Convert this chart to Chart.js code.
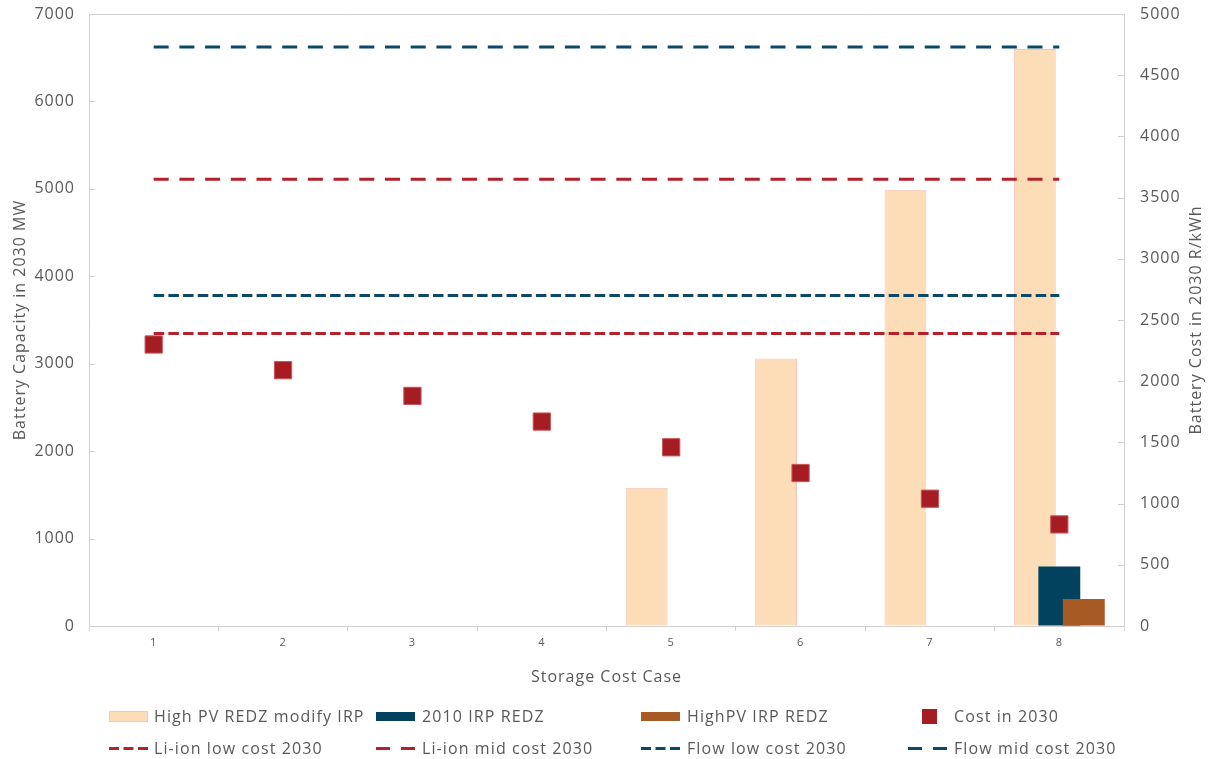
<!DOCTYPE html>
<html>
<head>
<meta charset="utf-8">
<script src="https://cdn.jsdelivr.net/npm/chart.js@4.4.1/dist/chart.umd.min.js"></script>
<style>
    html, body { margin: 0; padding: 0; background: #fff; }
    #wrap { position: relative; width: 1212px; height: 759px; overflow: hidden; }
    #chart { position: absolute; left: 0; top: 0; }
    .leg { position: absolute; display: flex; align-items: center; font-family: 'Open Sans', sans-serif; font-size: 16px; letter-spacing: 1.1px; color: #595959; white-space: nowrap; height: 24px; }
    .leg svg { display: block; }
</style>
</head>
<body>
<div id="wrap">
    <canvas id="chart" width="1212" height="759"></canvas>
    <div id="legend"></div>
</div>
<script>
// Données
const categories = ['1', '2', '3', '4', '5', '6', '7', '8'];
const highPvModifyIrp = [null, null, null, null, 1580, 3060, 4990, 6600];
const irp2010Redz = [null, null, null, null, null, null, null, 680];
const highPvIrpRedz = [null, null, null, null, null, null, null, 310];
const cost2030 = [2300, 2090, 1880, 1670, 1460, 1250, 1040, 830];
const liIonLow = [2390, 2390, 2390, 2390, 2390, 2390, 2390, 2390];
const liIonMid = [3650, 3650, 3650, 3650, 3650, 3650, 3650, 3650];
const flowLow = [2700, 2700, 2700, 2700, 2700, 2700, 2700, 2700];
const flowMid = [4730, 4730, 4730, 4730, 4730, 4730, 4730, 4730];
const leftTicks = [0, 1000, 2000, 3000, 4000, 5000, 6000, 7000];
const rightTicks = [0, 500, 1000, 1500, 2000, 2500, 3000, 3500, 4000, 4500, 5000];

const TXT = '#595959';
const AXE = '#d0d0d0';
const RED = '#b3222a';
const BLEU = '#0c4868';

document.addEventListener('DOMContentLoaded', function() {
    creerGraphique();
});

function creerGraphique() {
    const ctx = document.getElementById('chart').getContext('2d');

    // dessine le cadre, les graduations internes et les séries dans l'ordre d'Excel
    const cadreEtOrdre = {
        id: 'cadreEtOrdre',
        beforeInit(chart) {
            chart.ctx.letterSpacing = '1px';
        },
        beforeDraw(chart) {
            chart.ctx.letterSpacing = '1px';
        },
        beforeDatasetsDraw(chart) {
            const c = chart.ctx;
            const a = chart.chartArea;
            c.save();
            c.strokeStyle = AXE;
            c.lineWidth = 1;
            c.beginPath();
            c.moveTo(a.left, a.top + 0.5);
            c.lineTo(a.right, a.top + 0.5);
            [['y', 1], ['y2', -1]].forEach(function(p) {
                const s = chart.scales[p[0]];
                const x0 = p[1] > 0 ? a.left : a.right;
                s.ticks.forEach(function(t) {
                    const y = Math.round(s.getPixelForValue(t.value)) + 0.5;
                    c.moveTo(x0, y);
                    c.lineTo(x0 + p[1] * 6, y);
                });
            });
            c.stroke();
            c.restore();

            chart.data.datasets.forEach(function(ds, i) {
                chart.getDatasetMeta(i).controller.draw();
            });
            return false;
        },
        afterDraw(chart) {
            const c = chart.ctx;
            const a = chart.chartArea;
            c.save();
            c.translate(1196, (a.top + a.bottom) / 2);
            c.rotate(-Math.PI / 2);
            c.fillStyle = TXT;
            c.font = "16px 'Open Sans', sans-serif";
            c.textAlign = 'center';
            c.textBaseline = 'middle';
            c.fillText('Battery Cost in 2030 R/kWh', 0, 0);
            c.restore();
        }
    };

    const barre = { categoryPercentage: 0.568, barPercentage: 1.71, yAxisID: 'y' };
    const ligne = { type: 'line', yAxisID: 'y2', pointRadius: 0, borderWidth: 3, fill: false, tension: 0 };
    const sansVirgule = function(v) { return String(v); };
    const largeur = function(w) {
        return function(s) {
            s.width = w;
            s.paddingTop = 0;
            s.paddingBottom = 0;
        };
    };

    new Chart(ctx, {
        type: 'bar',
        data: {
            labels: categories,
            datasets: [
                Object.assign({ label: 'High PV REDZ modify IRP', data: highPvModifyIrp,
                    backgroundColor: '#fddcb8', borderColor: '#f7c4b9', borderWidth: 1, borderSkipped: 'bottom' }, barre),
                Object.assign({ label: '2010 IRP REDZ', data: irp2010Redz,
                    backgroundColor: '#03425f', borderWidth: 0 }, barre),
                Object.assign({ label: 'HighPV IRP REDZ', data: highPvIrpRedz,
                    backgroundColor: '#a85a24', borderWidth: 0 }, barre),
                Object.assign({ label: 'Li-ion low cost 2030', data: liIonLow,
                    borderColor: RED, borderDash: [10.5, 4.2] }, ligne),
                Object.assign({ label: 'Li-ion mid cost 2030', data: liIonMid,
                    borderColor: RED, borderDash: [15, 10.7] }, ligne),
                Object.assign({ label: 'Flow low cost 2030', data: flowLow,
                    borderColor: BLEU, borderDash: [10.5, 4.2] }, ligne),
                Object.assign({ label: 'Flow mid cost 2030', data: flowMid,
                    borderColor: BLEU, borderDash: [15, 10.7] }, ligne),
                {
                    type: 'line', label: 'Cost in 2030', data: cost2030, yAxisID: 'y2',
                    showLine: false, pointStyle: 'rect', pointRadius: 12.2,
                    pointBackgroundColor: '#a51c22', pointBorderColor: '#c9565a', pointBorderWidth: 1
                }
            ]
        },
        options: {
            responsive: false,
            animation: false,
            layout: { padding: { left: 0, right: 0, top: 14, bottom: 67 } },
            plugins: {
                legend: { display: false },
                tooltip: { enabled: false }
            },
            scales: {
                x: {
                    grid: { offset: true, drawOnChartArea: false, tickLength: 5, color: AXE },
                    border: { color: AXE },
                    ticks: { color: TXT, font: { family: 'Open Sans', size: 11 }, padding: 5 },
                    title: { display: true, text: 'Storage Cost Case', color: TXT,
                        font: { family: 'Open Sans', size: 16 }, padding: { top: 4, bottom: 5 } },
                    afterFit: function(s) { s.height = 66; s.paddingLeft = 0; s.paddingRight = 0; }
                },
                y: {
                    position: 'left', min: 0, max: 7000,
                    afterBuildTicks: function(s) { s.ticks = leftTicks.map(function(v) { return { value: v }; }); },
                    grid: { drawOnChartArea: false, drawTicks: false },
                    border: { color: AXE },
                    ticks: { color: TXT, font: { family: 'Open Sans', size: 16 }, padding: 14, callback: sansVirgule },
                    title: { display: true, text: 'Battery Capacity in 2030 MW', color: TXT,
                        font: { family: 'Open Sans', size: 16 }, padding: { top: 11, bottom: 0 } },
                    afterFit: largeur(89)
                },
                y2: {
                    position: 'right', min: 0, max: 5000,
                    afterBuildTicks: function(s) { s.ticks = rightTicks.map(function(v) { return { value: v }; }); },
                    grid: { drawOnChartArea: false, drawTicks: false },
                    border: { color: AXE },
                    ticks: { color: TXT, font: { family: 'Open Sans', size: 16 }, padding: 16, callback: sansVirgule },
                    afterFit: largeur(88)
                }
            }
        },
        plugins: [cadreEtOrdre]
    });

    creerLegende();
}

function creerLegende() {
    const cols = [109, 376, 641, 908];
    const rows = [716, 748];
    const items = [
        { label: 'High PV REDZ modify IRP', swatch: '<rect x="0.5" y="1.5" width="38" height="10" fill="#fddcb8" stroke="#f7c4b9"/>' },
        { label: '2010 IRP REDZ', swatch: '<rect x="0" y="2" width="39" height="9" fill="#03425f"/>' },
        { label: 'HighPV IRP REDZ', swatch: '<rect x="0" y="2" width="39" height="9" fill="#a85a24"/>' },
        { label: 'Cost in 2030', swatch: '<rect x="14" y="-1" width="15" height="15" fill="#a51c22"/>' },
        { label: 'Li-ion low cost 2030', swatch: '<line x1="0" y1="6.5" x2="39" y2="6.5" stroke="' + RED + '" stroke-width="3" stroke-dasharray="10 4.5"/>' },
        { label: 'Li-ion mid cost 2030', swatch: '<line x1="0" y1="6.5" x2="39" y2="6.5" stroke="' + RED + '" stroke-width="3" stroke-dasharray="14 11"/>' },
        { label: 'Flow low cost 2030', swatch: '<line x1="0" y1="6.5" x2="39" y2="6.5" stroke="' + BLEU + '" stroke-width="3" stroke-dasharray="10 4.5"/>' },
        { label: 'Flow mid cost 2030', swatch: '<line x1="0" y1="6.5" x2="39" y2="6.5" stroke="' + BLEU + '" stroke-width="3" stroke-dasharray="14 11"/>' }
    ];
    const leg = document.getElementById('legend');
    items.forEach(function(it, i) {
        const d = document.createElement('div');
        d.className = 'leg';
        const col = i % 4;
        d.style.left = cols[col] + 'px';
        d.style.top = (rows[Math.floor(i / 4)] - 12) + 'px';
        const gap = col === 0 ? 45 : 46;
        d.innerHTML = '<svg width="' + gap + '" height="13" style="overflow:visible">' + it.swatch + '</svg><span>' + it.label + '</span>';
        leg.appendChild(d);
    });
}
</script>
</body>
</html>
